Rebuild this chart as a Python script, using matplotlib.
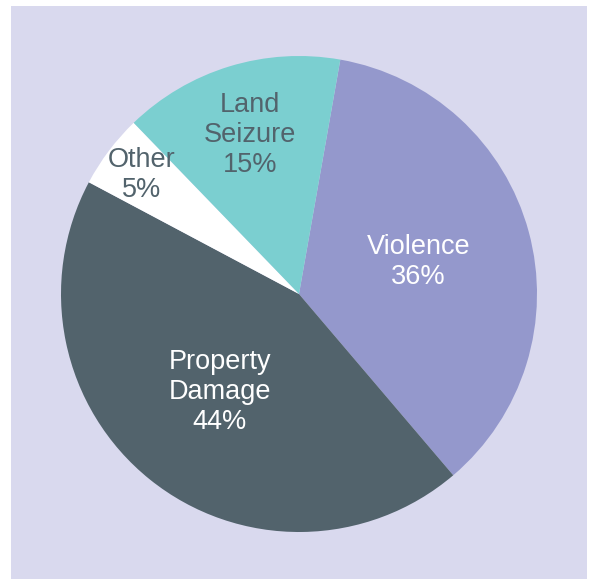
import numpy as np
import matplotlib
matplotlib.use('Agg')
import matplotlib.pyplot as plt
from matplotlib.patches import Rectangle

plt.rcParams['font.family'] = ['Liberation Sans', 'DejaVu Sans']

# data
labels = ['Violence', 'Property\nDamage', 'Other', 'Land\nSeizure']
shares = [36, 44, 5, 15]

colors = ['#9498cc', '#52636c', '#ffffff', '#7bcfd0']
text_colors = ['white', 'white', '#52636c', '#52636c']
label_dist = [0.52, 0.53, 0.83, 0.70]

W, H = 594, 579
fig = plt.figure(figsize=(W / 100, H / 100), dpi=100)
ax = fig.add_axes([0, 0, 1, 1])

cx, cy, R = 299, H - 294, 238

wedges, _ = ax.pie(shares, colors=colors, startangle=80, counterclock=False,
                   center=(cx, cy), radius=R, frame=True,
                   wedgeprops=dict(linewidth=0))

# background panel
ax.add_patch(Rectangle((11, 0), 576, H - 6, facecolor='#d9d9ee',
                       edgecolor='none', zorder=0))

for w, lab, val, d, tc in zip(wedges, labels, shares, label_dist, text_colors):
    ang = np.deg2rad((w.theta1 + w.theta2) / 2)
    x = cx + d * R * np.cos(ang)
    y = cy + d * R * np.sin(ang)
    ax.text(x, y, f'{lab}\n{val}%', ha='center', va='center',
            color=tc, fontsize=19.5, linespacing=1.2)

ax.set_xlim(0, W)
ax.set_ylim(0, H)
ax.set_aspect('auto')
ax.axis('off')

fig.savefig('out.png', dpi=100)
